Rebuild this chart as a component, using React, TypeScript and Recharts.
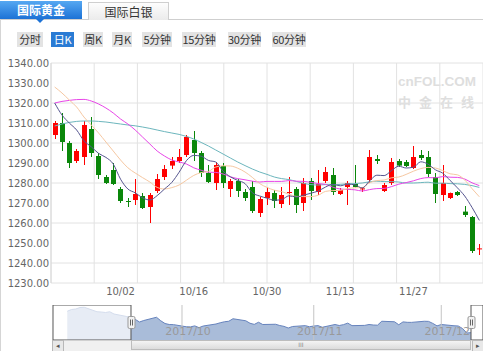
import React from "react";
import {
  ComposedChart,
  Bar,
  Line,
  Area,
  XAxis,
  YAxis,
  CartesianGrid,
  ReferenceArea,
  ReferenceLine,
} from "recharts";

// trading days shown in the main panel
const dates = [
  "09/19", "09/20", "09/21", "09/22", "09/25", "09/26", "09/27", "09/28", "09/29",
  "10/02", "10/03", "10/04", "10/05", "10/06", "10/09", "10/10", "10/11", "10/12", "10/13",
  "10/16", "10/17", "10/18", "10/19", "10/20", "10/23", "10/24", "10/25", "10/26", "10/27",
  "10/30", "10/31", "11/01", "11/02", "11/03", "11/06", "11/07", "11/08", "11/09", "11/10",
  "11/13", "11/14", "11/15", "11/16", "11/17", "11/20", "11/21", "11/22", "11/23", "11/24",
  "11/27", "11/28", "11/29", "11/30", "12/01", "12/04", "12/05", "12/06", "12/07", "12/08",
];

const opens = [
  1304, 1310, 1300, 1291, 1293, 1307, 1293.5, 1283, 1286.5, 1277,
  1271, 1271.5, 1273.5, 1268, 1276, 1283, 1288.7, 1291, 1294, 1301.5,
  1295, 1285, 1280, 1288.5, 1277, 1281, 1275.5, 1278, 1265, 1272.5,
  1275, 1269.5, 1275, 1277, 1270, 1281, 1275.5, 1281, 1284, 1274.5,
  1278, 1279.5, 1277, 1281.5, 1292, 1276, 1280, 1291, 1290.5, 1287.5,
  1294, 1293, 1283, 1274, 1272.5, 1275.5, 1265.7, 1263, 1247,
];
const highs = [
  1311, 1315, 1301, 1297, 1311, 1313, 1295, 1284, 1290, 1278,
  1272.5, 1282, 1275, 1275, 1284.5, 1289, 1293, 1297, 1304, 1306,
  1296, 1289, 1290.5, 1290, 1282, 1282, 1277, 1281, 1273, 1278,
  1276.5, 1278, 1283, 1278, 1282.5, 1282.5, 1286.5, 1288, 1287.5, 1277.5,
  1281, 1289, 1278, 1296.5, 1294, 1280, 1292.5, 1292, 1291.5, 1298.5,
  1296.5, 1296, 1285, 1289, 1275.2, 1276, 1268.5, 1263.5, 1249.5,
];
const lows = [
  1302, 1296, 1287.5, 1290, 1289, 1293, 1282, 1279.5, 1279, 1270,
  1268, 1269, 1267, 1260, 1275, 1281.5, 1287, 1290, 1293, 1291,
  1283, 1280, 1276.5, 1277.5, 1273, 1273, 1271, 1265, 1263, 1269,
  1267.5, 1267.5, 1269, 1265, 1266, 1271.5, 1274, 1280, 1274, 1274,
  1269, 1277.8, 1275.5, 1280, 1289.5, 1275.5, 1279, 1288, 1288, 1287,
  1291.5, 1283, 1270, 1271, 1272, 1273.5, 1263, 1245, 1244,
];
const closes = [
  1310, 1300.5, 1290, 1296, 1309, 1295, 1284, 1280, 1279.5, 1271,
  1270.5, 1274.5, 1267.5, 1274, 1282, 1287, 1291, 1293, 1303, 1295,
  1285, 1280.5, 1289, 1280, 1281, 1276, 1272.5, 1266, 1272, 1275.5,
  1271, 1274, 1275.5, 1269, 1280, 1276, 1279.5, 1285.5, 1275.5, 1276.5,
  1280, 1278, 1277.3, 1293, 1291, 1279, 1290.5, 1288.7, 1288.5, 1293,
  1292.5, 1284.5, 1274.5, 1280, 1275, 1274, 1264, 1246, 1247.3,
];

const ma5 = [
  1320, 1314, 1310, 1306.5, 1301.1, 1298.1, 1294.8, 1292.8, 1289.5, 1281.9,
  1277, 1275.1, 1272.6, 1271.5, 1273.7, 1277, 1280.3, 1285.4, 1291.2, 1293.8,
  1293.4, 1291.3, 1290.5, 1285.9, 1283.1, 1281.3, 1279.7, 1275.1, 1273.5, 1272.4,
  1271.4, 1271.7, 1273.6, 1273, 1273.9, 1274.9, 1276, 1278, 1279.3, 1278.6,
  1279.4, 1279.1, 1277.5, 1281, 1283.9, 1283.7, 1286.2, 1288.4, 1287.5, 1287.9,
  1290.6, 1289.4, 1286.6, 1284.9, 1281.3, 1277.6, 1273.5, 1267.8, 1261.3,
];
const ma10 = [
  1328, 1325, 1321.5, 1318, 1313, 1309, 1305, 1300.5, 1296, 1291.5,
  1287.6, 1285, 1282.7, 1280.5, 1277.8, 1277, 1277.7, 1279, 1281.4, 1283.8,
  1285.2, 1285.8, 1288, 1288.6, 1288.5, 1287.4, 1285.5, 1282.8, 1279.7, 1277.8,
  1276.4, 1275.7, 1274.4, 1273.3, 1273.2, 1273.2, 1273.9, 1275.8, 1276.2, 1276.3,
  1277.2, 1277.6, 1277.7, 1280.1, 1281.2, 1281.5, 1282.6, 1283, 1284.3, 1285.9,
  1287.2, 1287.8, 1287.5, 1286.2, 1284.6, 1284.1, 1281.5, 1277.2, 1273.1,
];
const ma20 = [
  1320, 1320.8, 1321.3, 1321.7, 1321.8, 1321, 1319.5, 1317.5, 1315, 1312,
  1309.5, 1306.5, 1303, 1299.5, 1296, 1293.5, 1291.5, 1290.5, 1289.5, 1287.6,
  1286.4, 1285.4, 1285.3, 1284.5, 1283.1, 1282.2, 1281.6, 1280.9, 1280.5, 1280.8,
  1280.8, 1280.8, 1281.2, 1280.9, 1280.8, 1280.3, 1279.7, 1279.3, 1277.9, 1277,
  1276.8, 1276.6, 1276, 1276.7, 1277.2, 1277.3, 1278.2, 1279.4, 1280.2, 1281.1,
  1282.2, 1282.7, 1282.6, 1283.2, 1282.9, 1282.8, 1282, 1280.1, 1278.7,
];
const ma30 = [
  1308.5, 1309.5, 1310.3, 1310.8, 1311, 1311, 1310.8, 1310.5, 1310, 1309.5,
  1309, 1308.6, 1308, 1307.3, 1306.5, 1305.7, 1305, 1304.3, 1303.3, 1302,
  1300.3, 1298.5, 1296.5, 1294.5, 1292.5, 1290.5, 1288.7, 1287, 1285.5, 1284.3,
  1283, 1282.2, 1281.7, 1280.8, 1279.8, 1279.2, 1279, 1279.2, 1279.1, 1279.3,
  1279.6, 1279.7, 1280, 1280.6, 1280.9, 1280.7, 1280.7, 1280.5, 1280, 1280,
  1280.2, 1280.4, 1279.9, 1279.9, 1279.7, 1279.6, 1279.3, 1278.7, 1277.8,
];

const yTicks = [1230, 1240, 1250, 1260, 1270, 1280, 1290, 1300, 1310, 1320, 1330, 1340];
const xLabels = ["10/02", "10/16", "10/30", "11/13", "11/27"];

// navigator: earlier closes before the visible window
const preDates = ["09/04", "09/05", "09/06", "09/07", "09/08", "09/11", "09/12", "09/13", "09/14", "09/15", "09/18"];
const preCloses = [1333, 1340, 1342, 1348, 1349, 1331, 1330, 1328, 1331, 1322, 1312];
const monthStarts = ["10/01", "11/01", "12/01"];
const monthLabels = ["2017/10", "2017/11", "2017/12"];

const tabs = ["国际黄金", "国际白银"];
const periods = ["分时", "日K", "周K", "月K", "5分钟", "15分钟", "30分钟", "60分钟"];
const periodLeft = [17, 51, 83, 112, 142, 182, 228, 272];
const periodWidth = [26, 23, 20, 20, 30, 34, 33, 34];

const COLORS = {
  up: "#f00",
  down: "#0a870a",
  ma5: "#55558f",
  ma10: "#f6c8a2",
  ma20: "#e845e8",
  ma30: "#6cb6bd",
  grid: "#e2e2e2",
  text: "#666",
};

const NUM_FONT = "DejaVu Sans, Verdana, sans-serif";
const CJK_FONT = "'Noto Sans CJK SC', sans-serif";

const dayOf = (s: string) => {
  const [m, d] = s.split("/").map(Number);
  return Math.round((Date.UTC(2017, m - 1, d) - Date.UTC(2017, 8, 1)) / 86400000);
};

const NAV_LEFT = 53;
const NAV_WIDTH = 430;
const NAV_DOMAIN: [number, number] = [-0.35, 100.82];
const navX = (d: number) => NAV_LEFT + ((d - NAV_DOMAIN[0]) / (NAV_DOMAIN[1] - NAV_DOMAIN[0])) * NAV_WIDTH;

const Candle = (props: any) => {
  const { x, y, width, height, payload } = props;
  const { open, close, high, low } = payload;
  const color = close >= open ? COLORS.up : COLORS.down;
  const h = Math.abs(height);
  const top = Math.min(y, y + height);
  const k = high - low > 0 ? h / (high - low) : 0;
  const bodyTop = top + (high - Math.max(open, close)) * k;
  const bodyH = Math.max(1, Math.abs(close - open) * k);
  const cx = Math.round(x + width / 2) + 0.5;
  return (
    <g>
      <line x1={cx} x2={cx} y1={top} y2={top + h} stroke={color} strokeWidth={1} />
      <rect x={cx - width / 2} y={bodyTop} width={width} height={bodyH} fill={color} />
    </g>
  );
};

const XTick = (props: any) => {
  const { x, y, payload } = props;
  if (!xLabels.includes(payload.value)) return <g />;
  return (
    <text x={x} y={y} dy="0.71em" textAnchor="middle" fill={COLORS.text} fontSize={10} fontFamily={NUM_FONT}>
      {payload.value}
    </text>
  );
};

const Handle = (props: any) => {
  const { viewBox } = props;
  const x = Math.round(viewBox.x) + 0.5;
  return (
    <g>
      <rect x={x - 3.5} y={11.5} width={7} height={12} rx={1.5} fill="#f2f2f2" stroke="#999" />
      <line x1={x - 1} x2={x - 1} y1={14.5} y2={20.5} stroke="#666" />
      <line x1={x + 1} x2={x + 1} y1={14.5} y2={20.5} stroke="#666" />
    </g>
  );
};

export default function App() {
  const data = dates.map((d, i) => ({
    date: d,
    open: opens[i],
    high: highs[i],
    low: lows[i],
    close: closes[i],
    range: [lows[i], highs[i]],
    ma5: ma5[i],
    ma10: ma10[i],
    ma20: ma20[i],
    ma30: ma30[i],
  }));

  const navData = [...preDates, ...dates].map((d, i) => ({
    day: dayOf(d),
    close: [...preCloses, ...closes][i],
  }));
  const startDay = dayOf(dates[0]);
  const endDay = dayOf(dates[dates.length - 1]);

  return (
    <div style={{ position: "absolute", left: 0, top: 0, width: 483, height: 351, background: "#fff", overflow: "hidden" }}>
      {/* tabs */}
      <div style={{ position: "absolute", left: 0, top: 19, width: 483, height: 1, background: "#cfcfcf" }} />
      <div style={{ position: "absolute", left: 0, top: 19, width: 1, height: 332, background: "#d5d5d5" }} />
      <div
        style={{
          position: "absolute", left: 0, top: 1, width: 82, height: 18,
          background: "linear-gradient(#56a8f2, #1c72d6)", color: "#fff",
          fontFamily: CJK_FONT, fontSize: 12, fontWeight: 700, lineHeight: "18px", textAlign: "center",
        }}
      >
        {tabs[0]}
      </div>
      <div
        style={{
          position: "absolute", left: 36, top: 19, width: 0, height: 0,
          borderLeft: "4px solid transparent", borderRight: "4px solid transparent", borderTop: "4px solid #1c72d6",
        }}
      />
      <div
        style={{
          position: "absolute", left: 88, top: 2, width: 79, height: 17,
          background: "linear-gradient(#fdfdfd, #ebebeb)", border: "1px solid #cfcfcf", borderBottom: "none",
          color: "#333", fontFamily: CJK_FONT, fontSize: 12, lineHeight: "17px", textAlign: "center",
        }}
      >
        {tabs[1]}
      </div>

      {/* period buttons */}
      {periods.map((p, i) => (
        <div
          key={p}
          style={{
            position: "absolute", left: periodLeft[i], top: 32, width: periodWidth[i], height: 15,
            lineHeight: "15px", textAlign: "center", whiteSpace: "nowrap", letterSpacing: -0.3,
            background: p === "日K" ? "#2a7bd4" : "#e3e3e3",
            color: p === "日K" ? "#fff" : "#333",
            fontFamily: CJK_FONT, fontSize: 11,
          }}
        >
          {p}
        </div>
      ))}

      {/* watermark */}
      <div style={{ position: "absolute", left: 398, top: 73, width: 82, color: "#dedede", fontFamily: "Liberation Sans, Arial, sans-serif" }}>
        <div style={{ fontSize: 13.5, fontWeight: 700, lineHeight: "17px", whiteSpace: "nowrap" }}>cnFOL.COM</div>
        <div style={{ fontFamily: CJK_FONT, fontSize: 13, fontWeight: 700, letterSpacing: 8, lineHeight: "16px", marginTop: 4, whiteSpace: "nowrap" }}>中金在线</div>
      </div>

      {/* main chart */}
      <div style={{ position: "absolute", left: 0, top: 55 }}>
        <ComposedChart width={483} height={248} data={data} margin={{ top: 8, right: 0, bottom: 0, left: 0 }}>
          <CartesianGrid
            stroke={COLORS.grid}
            verticalCoordinatesGenerator={({ offset }: any) =>
              Array.from({ length: 11 }, (_, k) => offset.left + (k * offset.width) / 10)
            }
          />
          <XAxis
            dataKey="date"
            interval={0}
            tickLine={false}
            axisLine={false}
            tickSize={0}
            tickMargin={5}
            height={20}
            tick={<XTick />}
          />
          <YAxis
            domain={[1230, 1340]}
            ticks={yTicks}
            tickFormatter={(v: number) => v.toFixed(2)}
            width={51}
            tickLine={false}
            tickSize={0}
            tickMargin={2}
            axisLine={{ stroke: "#d8d8d8" }}
            tick={{ fontSize: 10, fill: COLORS.text, fontFamily: NUM_FONT }}
            allowDataOverflow
          />
          <Bar dataKey="range" barSize={5} shape={<Candle />} isAnimationActive={false} />
          <Line type="monotone" dataKey="ma30" stroke={COLORS.ma30} strokeWidth={1} dot={false} isAnimationActive={false} />
          <Line type="monotone" dataKey="ma20" stroke={COLORS.ma20} strokeWidth={1} dot={false} isAnimationActive={false} />
          <Line type="monotone" dataKey="ma10" stroke={COLORS.ma10} strokeWidth={1} dot={false} isAnimationActive={false} />
          <Line type="monotone" dataKey="ma5" stroke={COLORS.ma5} strokeWidth={1} dot={false} isAnimationActive={false} />
        </ComposedChart>
      </div>

      {/* navigator */}
      <div style={{ position: "absolute", left: 0, top: 305 }}>
        <ComposedChart width={483} height={35} data={navData} margin={{ top: 0, right: 0, bottom: 0, left: NAV_LEFT }}>
          <XAxis type="number" dataKey="day" domain={NAV_DOMAIN} hide allowDataOverflow />
          <YAxis type="number" domain={[1218, 1358]} hide allowDataOverflow />
          <Area
            type="linear"
            dataKey="close"
            stroke="#6683bd"
            strokeWidth={1}
            fill="#a9bcd9"
            fillOpacity={1}
            dot={false}
            isAnimationActive={false}
          />
          {monthStarts.map((m, i) => (
            <ReferenceLine
              key={m}
              x={dayOf(m)}
              stroke="#c4c4c4"
              label={(p: any) => (
                <text x={p.viewBox.x + 6} y={30} textAnchor="middle" fill="#999" fontSize={11} fontFamily={NUM_FONT}>
                  {monthLabels[i]}
                </text>
              )}
            />
          ))}
          <ReferenceArea x1={NAV_DOMAIN[0]} x2={startDay} fill="#fff" fillOpacity={0.72} stroke="#555" strokeWidth={1} />
          <ReferenceArea x1={endDay} x2={NAV_DOMAIN[1]} fill="#fff" fillOpacity={0.72} stroke="#555" strokeWidth={1} />
          <ReferenceLine x={startDay} stroke="none" label={<Handle />} />
          <ReferenceLine x={endDay} stroke="none" label={<Handle />} />
        </ComposedChart>
      </div>

      {/* scrollbar */}
      <div style={{ position: "absolute", left: 52, top: 340, width: 431, height: 10, background: "#f0f0f0", borderTop: "1px solid #d0d0d0", borderBottom: "1px solid #d0d0d0" }} />
      <div style={{ position: "absolute", left: 52, top: 340, width: 10, height: 10, background: "#e8e8e8", border: "1px solid #b8b8b8", fontSize: 7, lineHeight: "10px", textAlign: "center", color: "#555" }}>◂</div>
      <div
        style={{
          position: "absolute", left: navX(startDay), top: 340, width: navX(endDay) - navX(startDay), height: 10,
          background: "linear-gradient(#f4f4f4, #dcdcdc)", border: "1px solid #bdbdbd", boxSizing: "border-box",
          fontSize: 6, lineHeight: "8px", textAlign: "center", color: "#888", fontFamily: NUM_FONT,
        }}
      >
        III
      </div>
      <div style={{ position: "absolute", left: 472, top: 340, width: 10, height: 10, background: "#e8e8e8", border: "1px solid #b8b8b8", fontSize: 7, lineHeight: "10px", textAlign: "center", color: "#555" }}>▸</div>
    </div>
  );
}
